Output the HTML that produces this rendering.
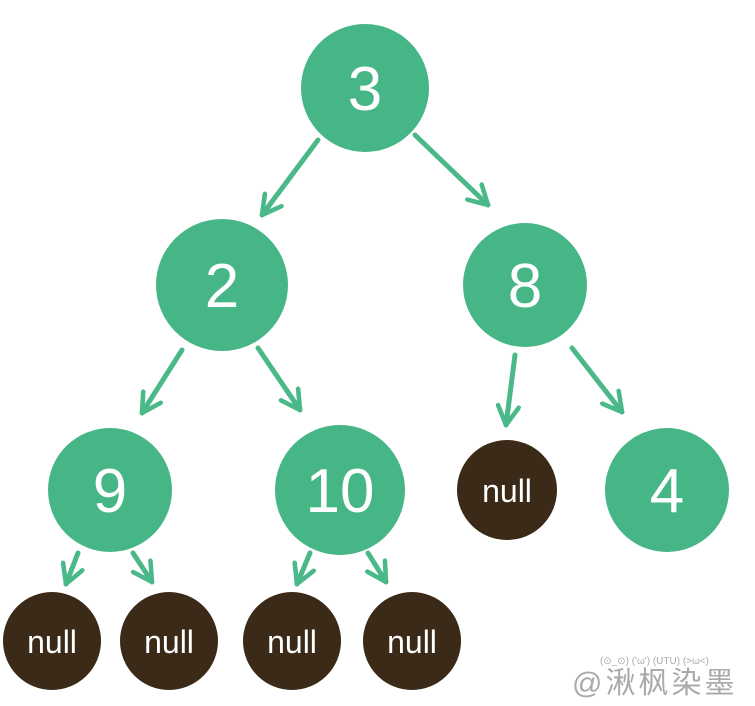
<!DOCTYPE html>
<html><head><meta charset="utf-8"><style>
html,body{margin:0;padding:0;background:#fff;width:755px;height:706px;overflow:hidden}
svg{display:block}
</style></head><body>
<svg width="755" height="706" viewBox="0 0 755 706" xmlns="http://www.w3.org/2000/svg">
<defs>
<marker id="a" viewBox="0 0 12 12" refX="10" refY="6" markerWidth="5" markerHeight="5" orient="auto" markerUnits="strokeWidth">
<path d="M1,1 L10,6 L1,11" fill="none" stroke="#4bb889" stroke-width="2.2" stroke-linecap="round" stroke-linejoin="round"/>
</marker>
</defs>
<g stroke="#4bb889" stroke-width="5" stroke-linecap="round" fill="none" marker-end="url(#a)">
<line x1="318" y1="140" x2="262" y2="215"/>
<line x1="415" y1="135" x2="488" y2="205"/>
<line x1="182" y1="350" x2="142" y2="413"/>
<line x1="258" y1="348" x2="300" y2="410"/>
<line x1="515" y1="355" x2="506" y2="425"/>
<line x1="572" y1="348" x2="622" y2="412"/>
<line x1="78" y1="553" x2="66" y2="584"/>
<line x1="133" y1="553" x2="152" y2="582"/>
<line x1="310" y1="553" x2="297" y2="584"/>
<line x1="368" y1="553" x2="386" y2="582"/>
</g>
<g fill="#46b686">
<circle cx="365" cy="88" r="64"/>
<circle cx="222" cy="285" r="66"/>
<circle cx="525" cy="285" r="62"/>
<circle cx="110" cy="490" r="62"/>
<circle cx="340" cy="490" r="65"/>
<circle cx="667" cy="490" r="62"/>
</g>
<g fill="#3b2a17">
<circle cx="507" cy="490" r="50"/>
<circle cx="52" cy="641" r="49"/>
<circle cx="169" cy="641" r="49"/>
<circle cx="292" cy="641" r="49"/>
<circle cx="412" cy="641" r="49"/>
</g>
<g fill="#fff" font-family="Liberation Sans, sans-serif" text-anchor="middle">
<text x="365" y="110" font-size="62">3</text>
<text x="222" y="307" font-size="62">2</text>
<text x="525" y="307" font-size="62">8</text>
<text x="110" y="512" font-size="62">9</text>
<text x="340" y="512" font-size="62">10</text>
<text x="667" y="512" font-size="62">4</text>
<text x="507" y="502" font-size="32">null</text>
<text x="52" y="653" font-size="32">null</text>
<text x="169" y="653" font-size="32">null</text>
<text x="292" y="653" font-size="32">null</text>
<text x="412" y="653" font-size="32">null</text>
</g>
<text x="600" y="664" font-size="10" fill="#aaa" font-family="Liberation Sans, sans-serif">(⊙_⊙) ('ω') (UTU) (&gt;ω&lt;)</text>
<text x="572" y="693" font-size="30" fill="#aaa" letter-spacing="3" font-family="Liberation Sans, 'Noto Sans CJK SC', sans-serif">@湫枫染墨</text>
</svg>
</body></html>
